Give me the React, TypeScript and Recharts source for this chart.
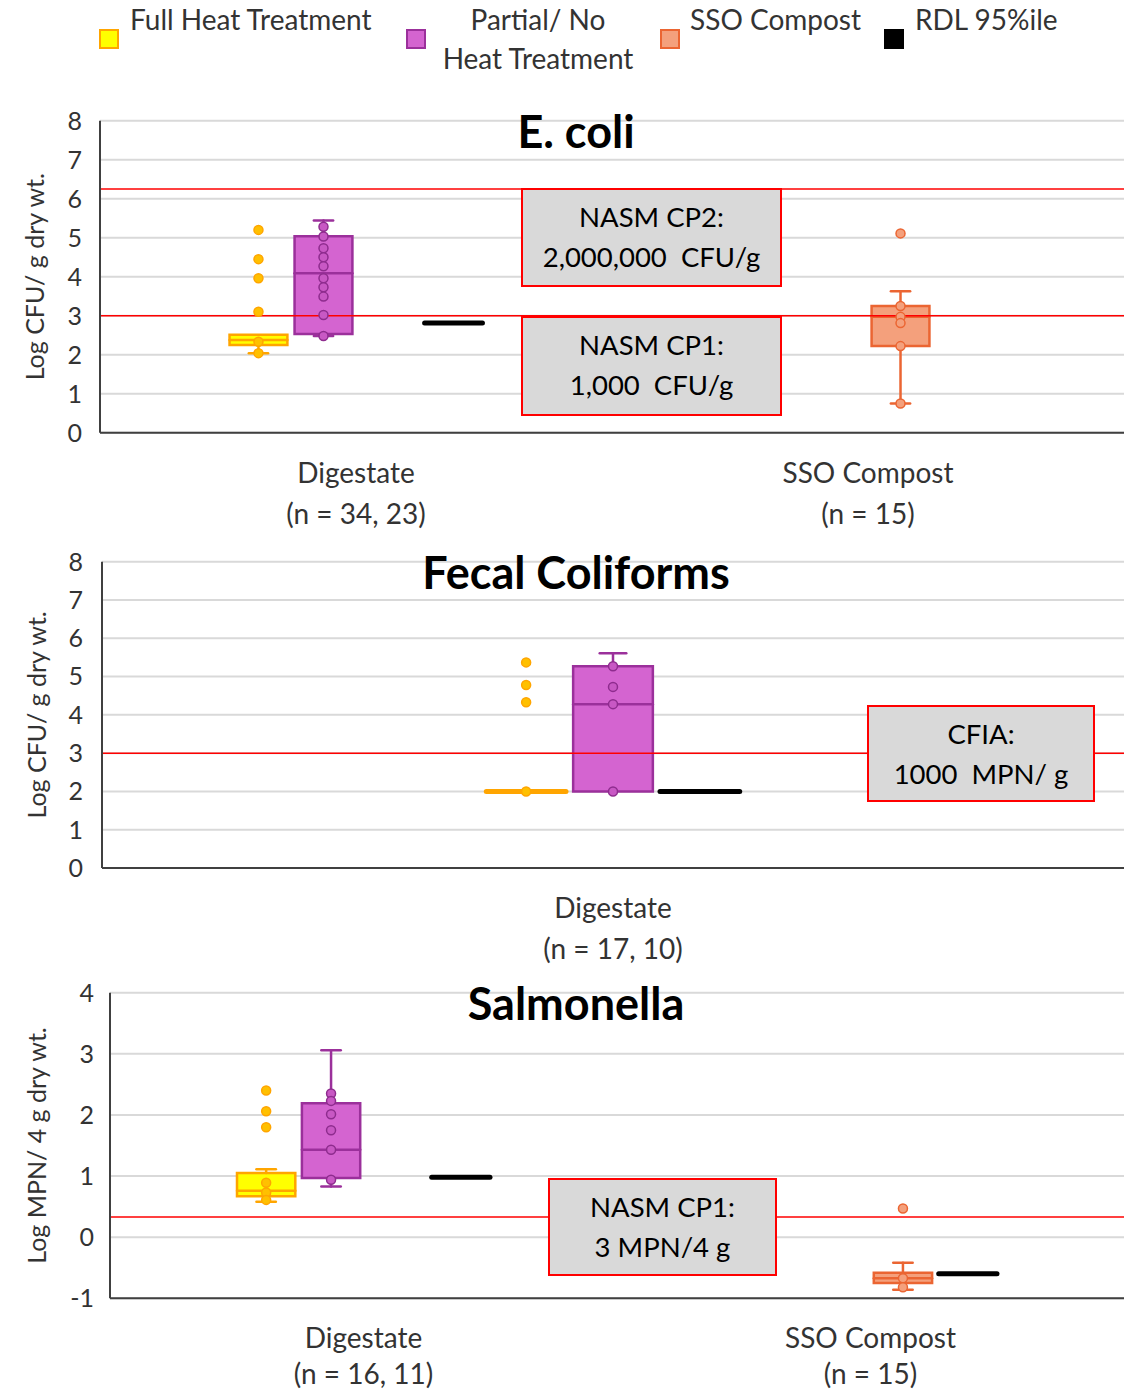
import { ComposedChart, XAxis, YAxis, CartesianGrid, ReferenceArea, ReferenceLine, Scatter } from 'recharts';

const FONT = 'Lato, "Open Sans", sans-serif';
const TEXT = '#333333';
const W = 1124;

// legend
const legendLabels = ['Full Heat Treatment', 'Partial/ No', 'Heat Treatment', 'SSO Compost', 'RDL 95%ile'];

// E. coli  (box stats are [min, q1, median, q3, max])
const ecoliCategories = ['Digestate', 'SSO Compost'];
const ecoliCounts = ['(n = 34, 23)', '(n = 15)'];
const ecoliTicks = [0, 1, 2, 3, 4, 5, 6, 7, 8];
const ecoliFull = [2.04, 2.25, 2.38, 2.51, 2.51];
const ecoliFullPts = [5.2, 4.45, 3.96, 3.1, 2.33, 2.04];
const ecoliPartial = [2.48, 2.53, 4.09, 5.04, 5.44];
const ecoliPartialPts = [5.28, 5.03, 4.73, 4.5, 4.27, 3.96, 3.73, 3.49, 3.02, 2.48];
const ecoliCompost = [0.75, 2.22, 2.97, 3.25, 3.63];
const ecoliCompostPts = [5.11, 3.25, 2.97, 2.81, 2.22, 0.75];
const ecoliRdl = [2.81];
const ecoliLimits = [6.25, 3];
const ecoliNotes = [['NASM CP2:', '2,000,000  CFU/g'], ['NASM CP1:', '1,000  CFU/g']];

// Fecal coliforms
const fecalCategories = ['Digestate'];
const fecalCounts = ['(n = 17, 10)'];
const fecalTicks = [0, 1, 2, 3, 4, 5, 6, 7, 8];
const fecalFull = [2, 2, 2, 2, 2];
const fecalFullPts = [5.37, 4.78, 4.33, 2];
const fecalPartial = [2, 2, 4.28, 5.27, 5.61];
const fecalPartialPts = [5.27, 4.73, 4.28, 2];
const fecalRdl = [2];
const fecalLimits = [3];
const fecalNotes = [['CFIA:', '1000  MPN/ g']];

// Salmonella
const salmCategories = ['Digestate', 'SSO Compost'];
const salmCounts = ['(n = 16, 11)', '(n = 15)'];
const salmTicks = [-1, 0, 1, 2, 3, 4];
const salmFull = [0.58, 0.67, 0.76, 1.05, 1.11];
const salmFullPts = [2.4, 2.06, 1.8, 0.89, 0.73, 0.61];
const salmPartial = [0.83, 0.97, 1.43, 2.19, 3.06];
const salmPartialPts = [2.35, 2.23, 2.01, 1.75, 1.43, 0.94];
const salmCompost = [-0.86, -0.75, -0.67, -0.58, -0.42];
const salmCompostPts = [0.47, -0.67, -0.82];
const salmRdl = [0.98, -0.6];
const salmLimits = [0.33];
const salmNotes = [['NASM CP1:', '3 MPN/4 g']];

const FULL = { fill: '#FFFF00', stroke: '#FFA500', dot: '#FFC000', dotStroke: '#FFA500' };
const PARTIAL = { fill: '#D464D0', stroke: '#9B309B', dot: '#C858C4', dotStroke: '#8E2C8E' };
const COMPOST = { fill: '#F4A07C', stroke: '#EB6532', dot: '#F4A07C', dotStroke: '#EB6532' };

const panels = [
  {
    id: 'ecoli', title: 'E. coli', yLabel: 'Log CFU/ g dry wt.', titleY: 148, yLabelX: 34,
    categories: ecoliCategories, counts: ecoliCounts, ticks: ecoliTicks, domain: [0, 8],
    top: 100, height: 440, marginTop: 20.7, plotH: 312, axisW: 100, tickMargin: 18,
    slots: 4, spacing: 0.127, boxW: 0.113, line2: 41,
    boxes: [
      { cat: 0, slot: 0, stats: ecoliFull, pts: ecoliFullPts, style: FULL },
      { cat: 0, slot: 1, stats: ecoliPartial, pts: ecoliPartialPts, style: PARTIAL },
      { cat: 1, slot: 2, stats: ecoliCompost, pts: ecoliCompostPts, style: COMPOST },
    ],
    rdl: [{ cat: 0, slot: 3, value: ecoliRdl[0] }],
    limits: ecoliLimits,
    notes: [
      { x: 522, y: 189, w: 259, h: 97, lines: ecoliNotes[0] },
      { x: 522, y: 317, w: 259, h: 98, lines: ecoliNotes[1] },
    ],
  },
  {
    id: 'fecal', title: 'Fecal Coliforms', yLabel: 'Log CFU/ g dry wt.', titleY: 589, yLabelX: 36,
    categories: fecalCategories, counts: fecalCounts, ticks: fecalTicks, domain: [0, 8],
    top: 540, height: 430, marginTop: 21.7, plotH: 306.3, axisW: 102, tickMargin: 19,
    slots: 3, spacing: 0.085, boxW: 0.078, line2: 41,
    boxes: [
      { cat: 0, slot: 0, stats: fecalFull, pts: fecalFullPts, style: FULL },
      { cat: 0, slot: 1, stats: fecalPartial, pts: fecalPartialPts, style: PARTIAL },
    ],
    rdl: [{ cat: 0, slot: 2, value: fecalRdl[0] }],
    limits: fecalLimits,
    notes: [{ x: 868, y: 706, w: 226, h: 95, lines: fecalNotes[0] }],
  },
  {
    id: 'salm', title: 'Salmonella', yLabel: 'Log MPN/ 4 g dry wt.', titleY: 1020, yLabelX: 36,
    categories: salmCategories, counts: salmCounts, ticks: salmTicks, domain: [-1, 4],
    top: 970, height: 423, marginTop: 22.7, plotH: 305.6, axisW: 110, tickMargin: 16,
    slots: 4, spacing: 0.128, boxW: 0.115, line2: 36,
    boxes: [
      { cat: 0, slot: 0, stats: salmFull, pts: salmFullPts, style: FULL },
      { cat: 0, slot: 1, stats: salmPartial, pts: salmPartialPts, style: PARTIAL },
      { cat: 1, slot: 2, stats: salmCompost, pts: salmCompostPts, style: COMPOST },
    ],
    rdl: [
      { cat: 0, slot: 3, value: salmRdl[0] },
      { cat: 1, slot: 3, value: salmRdl[1] },
    ],
    limits: salmLimits,
    notes: [{ x: 549, y: 1179, w: 227, h: 96, lines: salmNotes[0] }],
  },
];

function boxParts(b: any, xc: number, half: number, cap: number, key: string) {
  const [mn, q1, med, q3, mx] = b.stats;
  const s = b.style;
  const seg = (x1: number, y1: number, x2: number, y2: number, w: number, k: string, color = s.stroke) => (
    <ReferenceLine key={k} segment={[{ x: x1, y: y1 }, { x: x2, y: y2 }]} stroke={color} strokeWidth={w} strokeLinecap="round" />
  );
  const out: any[] = [];
  if (mx > q3) {
    out.push(seg(xc, q3, xc, mx, 2.5, key + '-wt'));
    out.push(seg(xc - cap, mx, xc + cap, mx, 2.5, key + '-ct'));
  }
  if (mn < q1) {
    out.push(seg(xc, mn, xc, q1, 2.5, key + '-wb'));
    out.push(seg(xc - cap, mn, xc + cap, mn, 2.5, key + '-cb'));
  }
  if (q3 > q1) {
    out.push(
      <ReferenceArea key={key + '-box'} x1={xc - half} x2={xc + half} y1={q1} y2={q3}
        fill={s.fill} fillOpacity={1} stroke={s.stroke} strokeWidth={2.5} />
    );
    out.push(seg(xc - half, med, xc + half, med, 2.5, key + '-med'));
  } else {
    out.push(seg(xc - half, q1, xc + half, q1, 5, key + '-flat'));
  }
  return out;
}

function Panel({ p }: { p: any }) {
  const xOf = (cat: number, slot: number) => cat + 0.5 + (slot - (p.slots - 1) / 2) * p.spacing;
  const half = p.boxW / 2;
  const cap = p.boxW / 6;
  const xAxisH = p.height - p.marginTop - p.plotH;
  const catTicks = p.categories.map((_: string, i: number) => i + 0.5);

  const CatTick = (props: any) => {
    const { x, y, payload } = props;
    const i = Math.floor(payload.value);
    return (
      <text x={x} y={y} textAnchor="middle" fill={TEXT} fontSize={28} fontFamily={FONT}>
        <tspan x={x} dy={48}>{p.categories[i]}</tspan>
        <tspan x={x} dy={p.line2}>{p.counts[i]}</tspan>
      </text>
    );
  };

  return (
    <div style={{ position: 'absolute', left: 0, top: p.top }}>
      <ComposedChart width={W} height={p.height} margin={{ top: p.marginTop, right: 0, bottom: 0, left: 0 }}>
        <CartesianGrid vertical={false} stroke="#D9D9D9" strokeWidth={2} />
        <XAxis type="number" dataKey="x" domain={[0, p.categories.length]} ticks={catTicks} interval={0}
          tick={CatTick} tickLine={false} tickSize={0} height={xAxisH}
          axisLine={{ stroke: '#404040', strokeWidth: 2 }} allowDataOverflow />
        <YAxis type="number" dataKey="y" domain={p.domain} ticks={p.ticks} interval={0} width={p.axisW}
          tickLine={false} tickSize={0} tickMargin={p.tickMargin}
          tick={{ fill: TEXT, fontSize: 25, fontFamily: FONT }}
          axisLine={{ stroke: '#404040', strokeWidth: 2 }} allowDataOverflow />
        {p.boxes.map((b: any, i: number) => boxParts(b, xOf(b.cat, b.slot), half, cap, p.id + i))}
        {p.rdl.map((r: any, i: number) => {
          const xc = xOf(r.cat, r.slot);
          return (
            <ReferenceLine key={p.id + 'rdl' + i} segment={[{ x: xc - half, y: r.value }, { x: xc + half, y: r.value }]}
              stroke="#000000" strokeWidth={5} strokeLinecap="round" />
          );
        })}
        {p.limits.map((v: number, i: number) => (
          <ReferenceLine key={p.id + 'lim' + i} y={v} stroke="#FF0000" strokeWidth={1.5} />
        ))}
        {p.boxes.map((b: any, i: number) => {
          const xc = xOf(b.cat, b.slot);
          return (
            <Scatter key={p.id + 'pts' + i} data={b.pts.map((v: number) => ({ x: xc, y: v }))}
              isAnimationActive={false}
              shape={(sp: any) => (
                <circle cx={sp.cx} cy={sp.cy} r={4.5} fill={b.style.dot} stroke={b.style.dotStroke} strokeWidth={1.5} />
              )} />
          );
        })}
      </ComposedChart>
    </div>
  );
}

function Overlay() {
  const legendItems = [
    { x: 100, fill: '#FFFF00', stroke: '#FFA500' },
    { x: 407, fill: '#D464D0', stroke: '#9B309B' },
    { x: 661, fill: '#F4A07C', stroke: '#EB6532' },
    { x: 885, fill: '#000000', stroke: '#000000' },
  ];
  const txt = { fontFamily: FONT, fill: TEXT };
  return (
    <svg width={W} height={1393} style={{ position: 'absolute', left: 0, top: 0, pointerEvents: 'none' }}>
      {legendItems.map((l, i) => (
        <rect key={i} x={l.x} y={30} width={18} height={18} fill={l.fill} stroke={l.stroke} strokeWidth={2} />
      ))}
      <text x={130} y={30} fontSize={28} {...txt}>{legendLabels[0]}</text>
      <text x={538} y={30} fontSize={28} textAnchor="middle" {...txt}>{legendLabels[1]}</text>
      <text x={538} y={69} fontSize={28} textAnchor="middle" {...txt}>{legendLabels[2]}</text>
      <text x={690} y={30} fontSize={28} {...txt}>{legendLabels[3]}</text>
      <text x={915} y={30} fontSize={28} {...txt}>{legendLabels[4]}</text>

      {panels.map((p) => {
        const cy = p.top + p.marginTop + p.plotH / 2;
        return (
          <g key={p.id}>
            <text x={576} y={p.titleY} fontSize={45} fontWeight="bold" textAnchor="middle" fontFamily={FONT} fill="#000">{p.title}</text>
            <text x={p.yLabelX} y={cy} fontSize={25} textAnchor="middle" dominantBaseline="central"
              transform={`rotate(-90, ${p.yLabelX}, ${cy})`} {...txt}>{p.yLabel}</text>
            {p.notes.map((n, i) => (
              <g key={i}>
                <rect x={n.x} y={n.y} width={n.w} height={n.h} fill="#D9D9D9" stroke="#FF0000" strokeWidth={2} />
                <text x={n.x + n.w / 2} y={n.y + 38} fontSize={27.5} textAnchor="middle" fontFamily={FONT} fill="#000" style={{ whiteSpace: 'pre' }}>{n.lines[0]}</text>
                <text x={n.x + n.w / 2} y={n.y + 78} fontSize={27.5} textAnchor="middle" fontFamily={FONT} fill="#000" style={{ whiteSpace: 'pre' }}>{n.lines[1]}</text>
              </g>
            ))}
          </g>
        );
      })}
    </svg>
  );
}

export default function App() {
  return (
    <div style={{ position: 'relative', width: W, height: 1393, background: '#fff', fontFamily: FONT }}>
      <style>{'body{margin:0}'}</style>
      {panels.map((p) => <Panel key={p.id} p={p} />)}
      <Overlay />
    </div>
  );
}
